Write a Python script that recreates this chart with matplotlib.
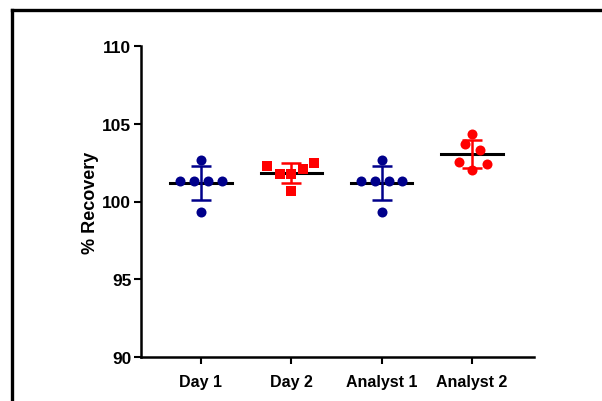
import numpy as np
import matplotlib
matplotlib.use("Agg")
import matplotlib.pyplot as plt
from matplotlib.lines import Line2D

plt.rcParams['font.family'] = ['Liberation Sans', 'DejaVu Sans']
plt.rcParams['font.weight'] = 'bold'

groups = ["Day 1", "Day 2", "Analyst 1", "Analyst 2"]
day1 = [101.3, 101.3, 101.3, 101.3, 102.7, 99.3]
day2 = [102.28, 101.8, 101.74, 102.06, 102.5, 100.66]
analyst1 = [101.3, 101.3, 101.3, 101.3, 102.7, 99.3]
analyst2 = [104.32, 103.72, 103.29, 102.54, 102.39, 102.0]
values = [day1, day2, analyst1, analyst2]

# scatter spread of the dots around each column
jitter = [
    [-0.23, -0.077, 0.077, 0.23, 0.0, 0.0],
    [-0.27, -0.13, 0.0, 0.125, 0.255, 0.0],
    [-0.23, -0.077, 0.077, 0.23, 0.0, 0.0],
    [0.0, -0.08, 0.09, -0.15, 0.16, 0.0],
]
colors = ["#00008B", "#FF0000", "#00008B", "#FF0000"]
markers = ["o", "s", "o", "o"]

fig = plt.figure(figsize=(6.02, 4.02), dpi=100)
ax = fig.add_axes([141 / 602, 1 - 358 / 402, (534 - 141) / 602, (358 - 47) / 402])

for i, (vals, jit) in enumerate(zip(values, jitter)):
    pos = i + 1
    vals = np.array(vals)
    m = vals.mean()
    sd = vals.std(ddof=1)
    ax.plot([pos - 0.34, pos + 0.34], [m, m], color="black", lw=2.2, zorder=2)
    ax.errorbar(pos, m, yerr=sd, color=colors[i], lw=1.8, capsize=7.5,
                capthick=1.8, fmt="none", zorder=3)
    ax.scatter(pos + np.array(jit), vals, s=52, marker=markers[i],
               color=colors[i], zorder=4, linewidths=0)

ax.set_xlim(0.337, 4.685)
ax.set_ylim(90, 110)
ax.set_yticks([90, 95, 100, 105, 110])
ax.set_xticks([1, 2, 3, 4])
ax.set_xticklabels(groups, fontsize=11.5, fontweight="bold")
ax.tick_params(axis="y", labelsize=12.5, width=1.5, length=5, pad=2)
ax.tick_params(axis="x", width=1.5, length=5, pad=7)
for lab in ax.get_yticklabels():
    lab.set_fontweight("bold")
ax.set_ylabel("% Recovery", fontsize=13, fontweight="bold", labelpad=2)

ax.spines["top"].set_visible(False)
ax.spines["right"].set_visible(False)
ax.spines["left"].set_linewidth(1.8)
ax.spines["bottom"].set_linewidth(1.8)

# frame around the picture (left and top edges)
fig.add_artist(Line2D([12 / 602, 12 / 602], [0, 1 - 11 / 402], color="black", lw=2.4,
                      transform=fig.transFigure))
fig.add_artist(Line2D([12 / 602, 1], [1 - 11 / 402, 1 - 11 / 402], color="black", lw=2.4,
                      transform=fig.transFigure))

fig.savefig("out.png", dpi=100)
